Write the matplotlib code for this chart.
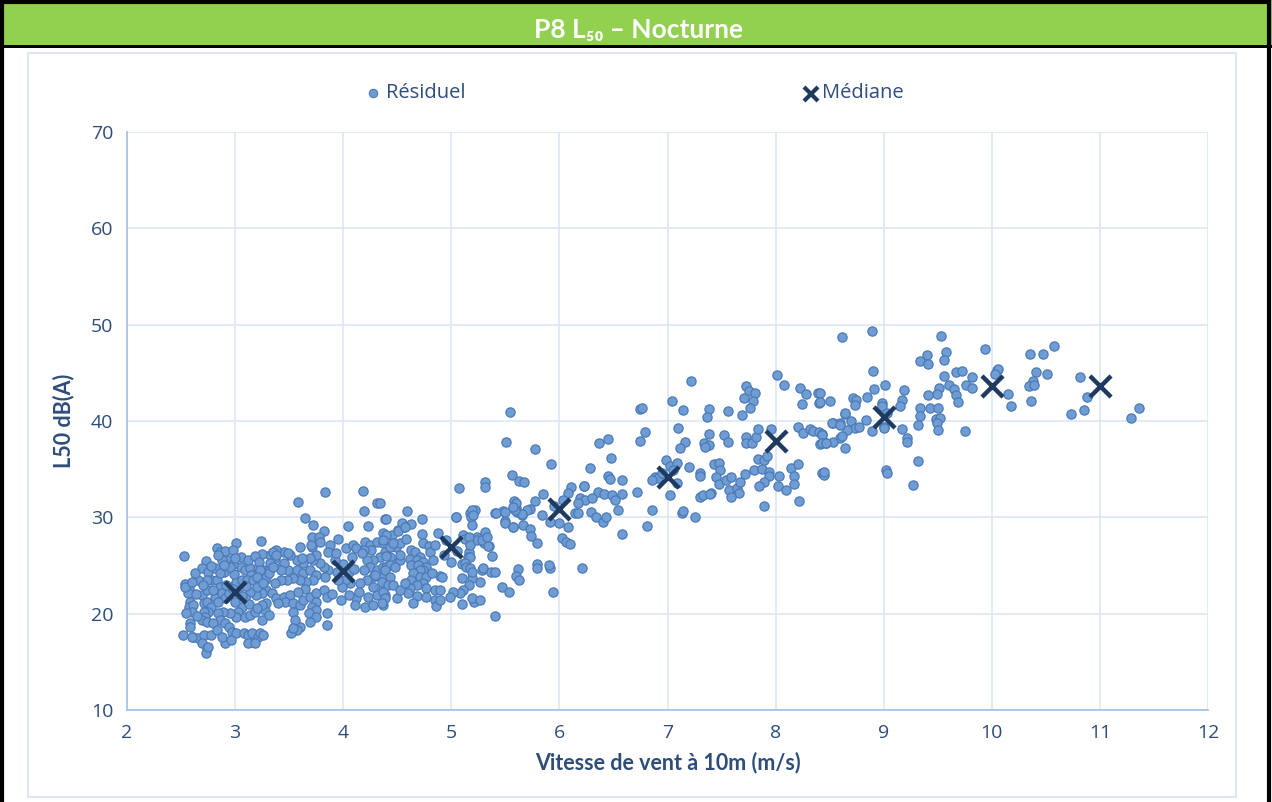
import matplotlib.pyplot as plt
from matplotlib.patches import Rectangle
from matplotlib.lines import Line2D
import numpy as np

# medians per wind class
med_wind = [3, 4, 5, 6, 7, 8, 9, 10, 11]
med_level = [22.3, 24.4, 26.9, 30.9, 34.2, 37.9, 40.4, 43.6, 43.6]

# residual points
band_25_33 = [
    (2.53, 25.98), (3.01, 27.37), (3.24, 27.57), (2.83, 26.85), (2.86, 26.43), (2.91, 26.5),
    (2.98, 26.61), (2.94, 25.57), (2.88, 25.57), (2.84, 26.09), (2.73, 25.5), (2.69, 24.71),
    (2.75, 24.36), (2.81, 24.71), (2.78, 23.49), (2.66, 23.49), (2.74, 23.49), (2.54, 23.08),
    (2.57, 22.63), (2.56, 22.11), (2.54, 22.8), (2.69, 21.93), (2.74, 22.46), (2.71, 21.07),
    (2.74, 21.24), (2.81, 21.76), (2.78, 20.72), (2.75, 20.2), (2.71, 20.2), (2.72, 19.68),
    (2.69, 19.33), (2.74, 19.16), (2.58, 21.24), (2.57, 20.72), (2.61, 20.89), (2.60, 20.2),
    (2.55, 20.03), (2.58, 18.99), (2.58, 18.64), (2.52, 17.78), (2.61, 17.61), (2.66, 17.44),
    (2.71, 17.78), (2.78, 17.78), (2.69, 16.92), (2.74, 16.4), (2.73, 15.88), (2.91, 16.92),
    (2.83, 23.49), (2.86, 22.8), (2.88, 22.11), (2.91, 21.59), (2.94, 22.11), (2.97, 22.8),
    (3.01, 23.32), (3.06, 23.49), (3.05, 24.87), (3.09, 24.53), (3.14, 24.71), (3.15, 24.01),
    (3.11, 23.49), (3.17, 23.49), (3.21, 24.71), (3.26, 24.53), (3.28, 23.49), (3.23, 23.15),
    (3.29, 22.46), (3.25, 22.11), (3.19, 21.93), (3.14, 22.28), (3.09, 21.59), (3.06, 20.72),
    (3.03, 20.2), (3.01, 19.68), (2.95, 20.03), (2.89, 20.2), (2.84, 20.03), (2.86, 19.33),
    (2.91, 18.99), (2.94, 18.64), (2.97, 18.12), (3.01, 17.95), (3.08, 17.95), (3.12, 17.78),
    (3.16, 17.95), (3.21, 17.61), (3.23, 17.95), (3.26, 17.78), (3.17, 17.09), (3.12, 16.92),
    (3.18, 16.92), (3.09, 19.68), (3.14, 19.85), (3.18, 20.2), (3.25, 19.33), (3.28, 20.37),
    (3.31, 19.85), (3.29, 21.07), (3.25, 20.89), (3.29, 23.84), (3.32, 24.71), (3.32, 26.09),
    (3.25, 26.2), (3.31, 24.19), (2.75, 16.57), (2.60, 17.61), (3.05, 25.9), (3.12, 25.6),
    (3.18, 26.0), (2.98, 25.2), (3.22, 25.4), (2.98, 22.6), (3.04, 22.0), (3.10, 22.9),
    (2.92, 23.0), (3.0, 21.2), (3.06, 21.8), (3.13, 21.0), (3.2, 20.6), (2.99, 24.1),
    (2.9, 24.3), (2.95, 24.8), (2.86, 24.2), (2.8, 22.5), (2.84, 21.2), (2.78, 25.0),
    (2.63, 24.2), (2.6, 23.3), (2.64, 22.0), (2.7, 23.0), (2.8, 19.0), (2.83, 18.3),
    (2.88, 17.6), (2.96, 17.3), (2.65, 19.8), (2.9, 25.1), (3.2, 22.8), (3.0, 25.8),
]

band_33_445 = [
    (3.83, 32.66), (3.58, 31.56), (4.18, 32.76), (4.31, 31.52), (4.19, 30.69), (3.65, 29.9),
    (4.04, 29.13), (4.23, 29.13), (4.39, 29.8), (3.72, 29.2), (3.82, 28.61), (3.71, 27.99),
    (3.78, 27.99), (3.79, 27.47), (3.71, 26.95), (3.95, 27.75), (3.88, 27.13), (3.86, 26.43),
    (4.03, 26.78), (4.09, 27.13), (4.12, 26.78), (4.20, 27.47), (4.25, 27.13), (4.31, 27.47),
    (4.37, 27.3), (4.26, 26.61), (4.19, 26.61), (4.39, 26.43), (4.34, 25.91), (4.28, 25.57),
    (4.22, 25.57), (4.25, 24.87), (4.19, 24.53), (4.31, 24.53), (4.37, 24.87), (4.36, 23.84),
    (4.28, 23.84), (4.22, 23.49), (4.16, 23.15), (4.28, 22.8), (4.37, 22.63), (4.31, 21.93),
    (4.23, 21.76), (4.12, 21.59), (4.11, 20.9), (4.20, 20.72), (4.28, 20.9), (4.37, 20.9),
    (4.39, 21.93), (4.06, 23.15), (4.02, 23.49), (3.99, 22.8), (3.95, 23.49), (3.94, 24.36),
    (3.86, 24.53), (3.83, 23.84), (3.82, 24.87), (3.79, 25.23), (3.72, 25.57), (3.75, 26.09),
    (3.69, 25.74), (3.63, 25.23), (3.57, 25.57), (3.51, 26.09), (3.45, 26.43), (3.38, 26.61),
    (3.37, 25.74), (3.32, 25.23), (3.42, 24.87), (3.49, 24.53), (3.57, 24.53), (3.63, 24.19),
    (3.69, 24.53), (3.75, 24.01), (3.72, 23.49), (3.66, 23.32), (3.60, 23.49), (3.54, 23.67),
    (3.48, 23.49), (3.42, 23.49), (3.37, 23.15), (3.34, 22.11), (3.38, 21.59), (3.45, 21.76),
    (3.51, 21.93), (3.46, 21.24), (3.40, 21.07), (3.54, 21.07), (3.60, 20.9), (3.63, 21.42),
    (3.69, 21.76), (3.75, 22.11), (3.82, 22.46), (3.85, 21.76), (3.75, 21.24), (3.71, 20.72),
    (3.75, 20.37), (3.68, 20.03), (3.75, 19.68), (3.69, 19.16), (3.60, 18.64), (3.57, 18.3),
    (3.52, 17.95), (3.54, 20.2), (3.55, 19.33), (3.85, 20.03), (3.85, 18.82), (3.54, 18.48),
    (3.35, 26.43), (3.38, 26.09), (3.49, 26.26), (3.62, 25.74), (3.45, 25.23), (3.42, 24.53),
    (3.35, 24.87), (3.23, 24.53), (3.20, 23.84), (3.26, 23.15), (4.51, 28.68), (4.56, 29.03),
    (4.45, 28.16), (4.49, 26.95), (4.53, 27.3), (4.43, 26.95), (4.46, 25.23), (4.53, 25.57),
    (4.43, 25.91), (4.40, 24.87), (4.29, 24.01), (4.17, 26.26), (4.08, 25.9), (4.0, 25.2),
    (3.92, 25.6), (4.05, 24.3), (3.9, 22.0), (3.98, 21.4), (4.05, 21.9), (4.15, 22.3),
    (3.65, 22.6), (3.58, 22.2), (3.93, 26.3), (4.1, 24.6), (3.7, 27.1), (3.6, 26.9),
]

band_445_55 = [
    (4.59, 30.69), (4.40, 29.8), (4.73, 29.8), (4.54, 29.38), (4.51, 28.58), (4.63, 29.31),
    (4.57, 29.03), (4.37, 28.4), (4.34, 31.45), (4.73, 28.27), (4.74, 27.37), (4.79, 27.02),
    (4.80, 26.43), (4.63, 26.61), (4.66, 26.43), (4.71, 25.91), (4.62, 25.64), (4.68, 25.57),
    (4.74, 25.39), (4.63, 25.05), (4.69, 25.05), (4.77, 24.87), (4.74, 24.53), (4.71, 24.53),
    (4.65, 24.19), (4.63, 23.49), (4.71, 23.84), (4.77, 23.84), (4.74, 23.15), (4.68, 22.97),
    (4.62, 22.63), (4.60, 22.11), (4.68, 21.83), (4.65, 21.07), (4.77, 22.63), (4.85, 22.46),
    (4.77, 21.76), (4.85, 21.42), (4.86, 20.79), (4.90, 23.91), (4.83, 25.57), (4.88, 28.34),
    (4.85, 27.13), (4.93, 26.09), (5.04, 30.06), (5.17, 30.42), (5.18, 30.0), (5.22, 30.76),
    (5.16, 26.43), (5.15, 25.85), (5.19, 23.67), (5.05, 26.53), (5.10, 25.12), (5.24, 27.99),
    (5.30, 27.37), (5.35, 27.02), (5.28, 24.53), (5.21, 21.24), (4.40, 28.16), (4.46, 27.3),
    (4.37, 27.65), (4.53, 26.09), (4.40, 25.98), (4.43, 25.05), (4.48, 24.87), (4.39, 24.53),
    (4.43, 23.84), (4.36, 23.32), (4.41, 22.97), (4.46, 22.97), (4.37, 22.28), (4.39, 21.59),
    (4.36, 21.07), (4.50, 21.59), (4.53, 22.46), (4.57, 23.15), (5.07, 33.07), (5.31, 33.70),
    (5.31, 33.12), (5.40, 30.42), (5.48, 30.66), (5.04, 30.06), (5.19, 30.76), (5.20, 30.24),
    (5.19, 29.2), (5.24, 27.65), (5.28, 27.65), (5.31, 28.51), (5.33, 27.93), (5.34, 27.02),
    (5.38, 25.98), (5.29, 24.71), (5.27, 23.32), (5.37, 24.36), (5.40, 24.29), (5.47, 22.73),
    (5.40, 19.76), (5.11, 28.16), (5.13, 27.72), (5.16, 27.99), (5.17, 27.13), (5.17, 25.91),
    (5.13, 25.23), (5.14, 24.87), (5.17, 24.71), (5.19, 24.36), (5.10, 23.67), (5.16, 22.97),
    (5.11, 22.46), (5.08, 22.11), (5.02, 22.28), (4.99, 21.76), (5.19, 21.59), (5.27, 21.42),
    (5.10, 21.0), (4.91, 23.84), (4.90, 22.46), (4.90, 21.42), (5.50, 29.65), (5.50, 29.38),
    (5.41, 30.42), (5.50, 30.58), (4.95, 27.6), (5.0, 25.4), (4.58, 27.8), (4.82, 24.2),
]

band_55_65 = [
    (5.54, 40.9), (5.51, 37.8), (5.77, 37.1), (5.92, 35.5), (5.56, 34.39), (5.63, 33.80),
    (5.67, 33.70), (5.58, 31.69), (5.60, 31.0), (5.61, 30.58), (5.65, 30.24), (5.57, 29.03),
    (5.53, 22.22), (6.11, 33.11), (6.08, 32.56), (6.19, 31.98), (6.24, 31.80), (6.17, 31.52),
    (6.14, 30.42), (6.23, 33.25), (6.08, 29.03), (6.02, 27.82), (6.06, 27.47), (6.10, 27.23),
    (6.00, 29.44), (5.91, 29.54), (5.85, 32.42), (5.77, 31.72), (5.73, 30.83), (5.70, 30.76),
    (5.65, 30.31), (5.60, 31.52), (5.59, 30.76), (5.57, 31.04), (5.57, 29.03), (5.66, 29.20),
    (5.73, 28.79), (5.74, 28.06), (5.79, 27.30), (5.91, 24.71), (5.90, 25.05), (5.79, 25.12),
    (5.79, 24.71), (5.62, 24.64), (5.60, 23.94), (5.63, 23.49), (5.94, 22.22), (6.21, 24.77),
    (6.37, 37.7), (6.45, 38.1), (6.48, 36.2), (6.28, 35.1), (6.45, 34.3), (6.47, 34.0),
    (6.58, 33.9), (6.23, 33.3), (6.36, 32.6), (6.41, 32.4), (6.49, 32.3), (6.58, 32.4),
    (6.51, 31.8), (6.54, 30.8), (6.29, 30.6), (6.34, 30.0), (6.40, 29.5), (6.43, 30.0),
    (6.17, 30.4), (6.58, 28.3), (5.95, 31.2), (5.84, 30.2), (6.03, 31.8), (6.3, 32.0),
]

band_65_75 = [
    (6.75, 41.2), (6.79, 38.9), (6.75, 37.9), (6.72, 32.6), (7.22, 44.2), (7.04, 42.1),
    (7.14, 41.1), (7.38, 41.2), (7.37, 40.4), (7.56, 41.0), (6.76, 41.3), (7.10, 39.3),
    (7.16, 37.8), (7.12, 37.2), (7.38, 38.6), (7.34, 37.7), (7.38, 37.5), (7.35, 37.3),
    (7.52, 38.5), (7.56, 37.8), (7.43, 35.5), (7.48, 35.6), (7.49, 34.9), (7.45, 34.2),
    (7.48, 33.5), (7.54, 33.9), (7.59, 34.2), (7.57, 32.8), (7.64, 33.0), (7.66, 32.5),
    (7.59, 32.1), (7.67, 33.7), (7.30, 34.6), (7.30, 34.3), (7.30, 32.1), (7.33, 32.3),
    (7.40, 32.5), (7.39, 32.4), (7.13, 30.4), (7.14, 30.7), (7.25, 30.0), (7.02, 32.3),
    (6.86, 30.8), (6.81, 29.1), (6.88, 34.2), (6.91, 34.1), (6.99, 36.0), (7.02, 35.3),
    (7.09, 35.6), (7.09, 33.6), (6.86, 33.9), (6.95, 34.6), (7.05, 34.9), (7.2, 35.2),
]

band_75_85 = [
    (8.01, 44.8), (8.08, 43.7), (8.23, 43.4), (8.28, 42.8), (8.24, 41.8), (8.39, 42.9),
    (8.40, 41.9), (7.73, 43.6), (7.75, 43.1), (7.81, 42.9), (7.71, 42.4), (7.79, 42.1),
    (7.76, 41.4), (7.69, 40.6), (7.73, 38.3), (7.73, 37.7), (7.78, 37.7), (7.82, 38.3),
    (7.84, 39.2), (7.96, 39.2), (8.21, 39.4), (8.25, 38.8), (8.32, 39.2), (8.35, 39.0),
    (8.40, 38.9), (8.43, 38.6), (8.41, 37.6), (8.47, 37.7), (7.80, 34.9), (7.87, 35.0),
    (7.94, 34.7), (7.94, 34.3), (8.03, 34.3), (8.02, 33.3), (8.10, 32.8), (8.14, 35.1),
    (8.21, 35.5), (8.17, 34.3), (8.17, 33.5), (7.89, 33.7), (7.85, 33.3), (8.22, 31.7),
    (7.89, 31.2), (8.43, 34.6), (7.84, 36.1), (7.89, 35.9), (7.92, 36.4), (7.72, 34.5),
    (8.45, 34.4), (8.45, 34.7), (8.41, 42.9), (8.41, 42.0), (8.43, 38.5), (8.43, 37.7),
]

band_85_115 = [
    (8.61, 48.7), (8.89, 49.3), (9.53, 48.85), (9.94, 47.5), (10.35, 47.0), (10.47, 47.0),
    (10.58, 47.8), (9.40, 46.9), (9.58, 47.2), (9.34, 46.2), (9.41, 45.95), (9.56, 46.3),
    (9.56, 44.7), (9.67, 45.1), (9.72, 45.2), (9.82, 44.6), (9.76, 43.7), (9.82, 43.4),
    (10.05, 45.3), (10.06, 45.4), (10.03, 44.9), (10.41, 45.1), (10.51, 44.9), (10.38, 44.2),
    (10.34, 43.6), (10.39, 43.7), (10.15, 42.8), (10.18, 41.6), (10.36, 42.1), (10.73, 40.7),
    (10.82, 44.6), (9.01, 43.7), (9.19, 43.2), (9.60, 43.7), (9.51, 43.4), (9.65, 43.3),
    (9.49, 42.8), (9.41, 42.7), (9.67, 42.7), (9.69, 42.0), (9.17, 42.2), (9.15, 41.6),
    (9.34, 41.3), (9.43, 41.3), (9.50, 41.3), (9.34, 40.5), (9.48, 40.2), (9.52, 40.3),
    (9.49, 39.8), (9.50, 39.1), (9.32, 39.6), (9.75, 39.0), (9.17, 39.2), (9.00, 39.4),
    (9.22, 38.2), (9.22, 37.8), (9.32, 35.8), (9.02, 34.9), (10.88, 42.5), (10.85, 41.1),
    (11.29, 40.3), (11.36, 41.4), (8.90, 45.2), (8.91, 43.3), (8.85, 42.5), (8.72, 42.4),
    (8.74, 42.2), (8.73, 41.7), (8.50, 42.1), (8.64, 40.7), (8.53, 39.8), (8.60, 39.8),
    (8.70, 40.0), (8.73, 39.3), (8.66, 39.1), (8.60, 38.2), (8.64, 37.2), (8.53, 37.8),
    (8.47, 37.7), (8.84, 40.1), (8.98, 41.9), (8.89, 39.0), (9.27, 33.4), (9.03, 34.6),
    (8.52, 39.8), (8.60, 39.6), (8.64, 40.8), (8.77, 39.4), (9.0, 39.3), (8.98, 41.6),
    (9.03, 40.8), (8.61, 38.4),
]

bands = [band_25_33, band_33_445, band_445_55, band_55_65, band_65_75, band_75_85, band_85_115]
res_wind = np.array([p[0] for b in bands for p in b])
res_level = np.array([p[1] for b in bands for p in b])

blue_txt = '#2E4D7B'
dot_face = '#6F9CD3'
dot_edge = '#4A7AB8'
cross_col = '#1F3A5F'

fig = plt.figure(figsize=(12.72, 8.02), dpi=100)
W, H = 1272, 802

def frect(x0, y0, x1, y1, z, **kw):
    # rectangle in pixel coords (top-left origin)
    r = Rectangle((x0 / W, 1 - y1 / H), (x1 - x0) / W, (y1 - y0) / H,
                  transform=fig.transFigure, zorder=z, **kw)
    fig.add_artist(r)

# title band, chart frame, outer border
frect(28, 53, 1236, 797, -5, facecolor='white', edgecolor='#D6E0EE', linewidth=1.2)
frect(0, 0, W, 47, 5, facecolor='#92D050', edgecolor='none')
frect(0, 45, W, 48, 6, facecolor='black', edgecolor='none')
frect(1.5, 1.5, W - 3.5, H + 5, 7, facecolor='none', edgecolor='black', linewidth=3)

fig.text(638 / W, 1 - 30 / H, 'P8 L₅₀ – Nocturne', ha='center', va='center',
         color='white', fontsize=19, fontweight='bold', family=['Lato', 'DejaVu Sans'],
         zorder=8)

# legend
fig.add_artist(Line2D([373 / W], [1 - 93 / H], marker='o', markersize=6,
                      markerfacecolor=dot_face, markeredgecolor=dot_edge,
                      markeredgewidth=0.8, linestyle='none', transform=fig.transFigure))
fig.text(386 / W, 1 - 93 / H, 'Résiduel', ha='left', va='center', color=blue_txt,
         fontsize=14.5, family='Open Sans')
fig.add_artist(Line2D([811 / W], [1 - 94 / H], marker='x', markersize=10,
                      markeredgecolor=cross_col, markeredgewidth=3,
                      linestyle='none', transform=fig.transFigure))
fig.text(822 / W, 1 - 93 / H, 'Médiane', ha='left', va='center', color=blue_txt,
         fontsize=14.5, family='Open Sans')

ax = fig.add_axes([127 / W, 1 - 710 / H, (1208 - 127) / W, (710 - 132) / H])
ax.patch.set_alpha(0)
ax.scatter(res_wind, res_level, s=44, facecolor=dot_face, edgecolor=dot_edge,
           linewidth=0.9, zorder=3)
ax.scatter(med_wind, med_level, marker='x', s=230, color=cross_col, linewidth=3.2, zorder=4)

ax.set_xlim(2, 12)
ax.set_ylim(10, 70)
ax.set_xticks(range(2, 13))
ax.set_yticks(range(10, 71, 10))
ax.grid(True, color='#DCE6F4', linewidth=1.2, zorder=0)
ax.set_axisbelow(True)
for s in ['top', 'right']:
    ax.spines[s].set_visible(False)
for s in ['left', 'bottom']:
    ax.spines[s].set_color('#A9C4E6')
    ax.spines[s].set_linewidth(1.3)
ax.tick_params(length=0, pad=10, labelsize=14, labelcolor=blue_txt)
for lab in ax.get_xticklabels() + ax.get_yticklabels():
    lab.set_family('Open Sans')
ax.set_xlabel('Vitesse de vent à 10m (m/s)', fontsize=15.5, fontweight='bold',
              color=blue_txt, family='Lato', labelpad=7)
ax.set_ylabel('L50 dB(A)', fontsize=15.5, fontweight='bold', color=blue_txt,
              family='Lato', labelpad=12)

fig.savefig('out.png', dpi=100)
